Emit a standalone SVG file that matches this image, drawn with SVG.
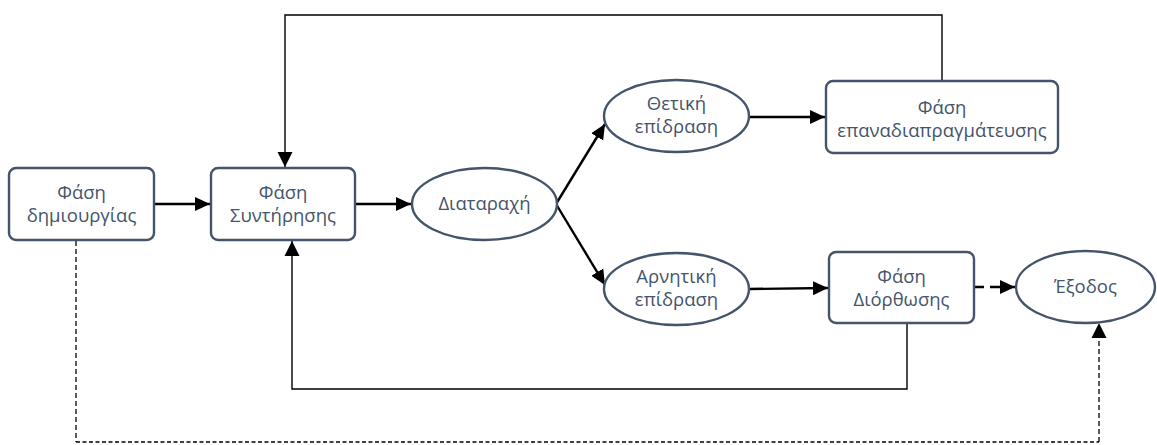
<svg xmlns="http://www.w3.org/2000/svg" width="1157" height="445" viewBox="0 0 1157 445">
<defs>
<marker id="ah" viewBox="0 0 15 15" refX="15" refY="7.5" markerWidth="15" markerHeight="15" markerUnits="userSpaceOnUse" orient="auto">
<path d="M0,0.5 L15,7.5 L0,14.5 Z" fill="#000"/>
</marker>
<marker id="ahs" viewBox="0 0 15 16" refX="15" refY="8" markerWidth="15" markerHeight="16" markerUnits="userSpaceOnUse" orient="auto">
<path d="M0,0.5 L15,8 L0,15.5 Z" fill="#000"/>
</marker>
</defs>
<style>
.box{fill:#fff;stroke:#44546a;stroke-width:2.4}
.t{font-family:"Open Sans","Noto Sans",sans-serif;font-size:18.5px;fill:#44546a;text-anchor:middle}
.c{fill:none;stroke:#000;stroke-width:2.4}
.l{fill:none;stroke:#000;stroke-width:1.4}
.d{fill:none;stroke:#000;stroke-width:1.3}
</style>
<rect width="1157" height="445" fill="#fff"/>
<g id="connectors">
<line class="c" x1="154" y1="204" x2="210" y2="204" marker-end="url(#ah)"/>
<line class="c" x1="355" y1="204" x2="411" y2="204" marker-end="url(#ah)"/>
<line class="c" x1="556" y1="204" x2="605" y2="124" marker-end="url(#ah)"/>
<line class="c" x1="556" y1="204" x2="605" y2="285" marker-end="url(#ah)"/>
<line class="c" x1="749" y1="117" x2="825" y2="117" marker-end="url(#ah)"/>
<line class="c" x1="749" y1="289" x2="828" y2="288" marker-end="url(#ah)"/>
<line class="c" x1="974" y1="287" x2="1015" y2="287" stroke-dasharray="10,6" marker-end="url(#ah)"/>
<polyline class="l" points="942,81 942,15 285,15 285,167" marker-end="url(#ahs)"/>
<polyline class="l" points="907,323 907,389 292,389 292,241" marker-end="url(#ahs)"/>
<polyline class="d" points="76,241 76,442" stroke-dasharray="5,3"/>
<polyline class="d" points="76,442 1099,442" stroke-dasharray="4,2.5"/>
<polyline class="d" points="1099,442 1099,323" stroke-dasharray="5,3" marker-end="url(#ahs)"/>
</g>
<g id="n-creation">
<rect class="box" x="9" y="168" width="145" height="72" rx="7"/>
<text class="t" x="81.5" y="199">Φάση</text>
<text class="t" x="81.5" y="222">δημιουργίας</text>
</g>
<g id="n-maintenance">
<rect class="box" x="211" y="168" width="144" height="72" rx="7"/>
<text class="t" x="283" y="199">Φάση</text>
<text class="t" x="283" y="222">Συντήρησης</text>
</g>
<g id="n-disturbance">
<ellipse class="box" cx="484.5" cy="204" rx="72.5" ry="36"/>
<text class="t" x="484.5" y="210">Διαταραχή</text>
</g>
<g id="n-positive">
<ellipse class="box" cx="676.5" cy="116" rx="72.5" ry="36"/>
<text class="t" x="676.5" y="110">Θετική</text>
<text class="t" x="676.5" y="133">επίδραση</text>
</g>
<g id="n-negative">
<ellipse class="box" cx="676.5" cy="289" rx="72.5" ry="36"/>
<text class="t" x="676.5" y="283">Αρνητική</text>
<text class="t" x="676.5" y="306">επίδραση</text>
</g>
<g id="n-renegotiation">
<rect class="box" x="826" y="81" width="232" height="72" rx="7"/>
<text class="t" x="942" y="114">Φάση</text>
<text class="t" x="942" y="137">επαναδιαπραγμάτευσης</text>
</g>
<g id="n-correction">
<rect class="box" x="829" y="252" width="145" height="71" rx="7"/>
<text class="t" x="901.5" y="283">Φάση</text>
<text class="t" x="901.5" y="306">Διόρθωσης</text>
</g>
<g id="n-exit">
<ellipse class="box" cx="1085.5" cy="287" rx="69.5" ry="36"/>
<text class="t" x="1085.5" y="293">Έξοδος</text>
</g>
</svg>
